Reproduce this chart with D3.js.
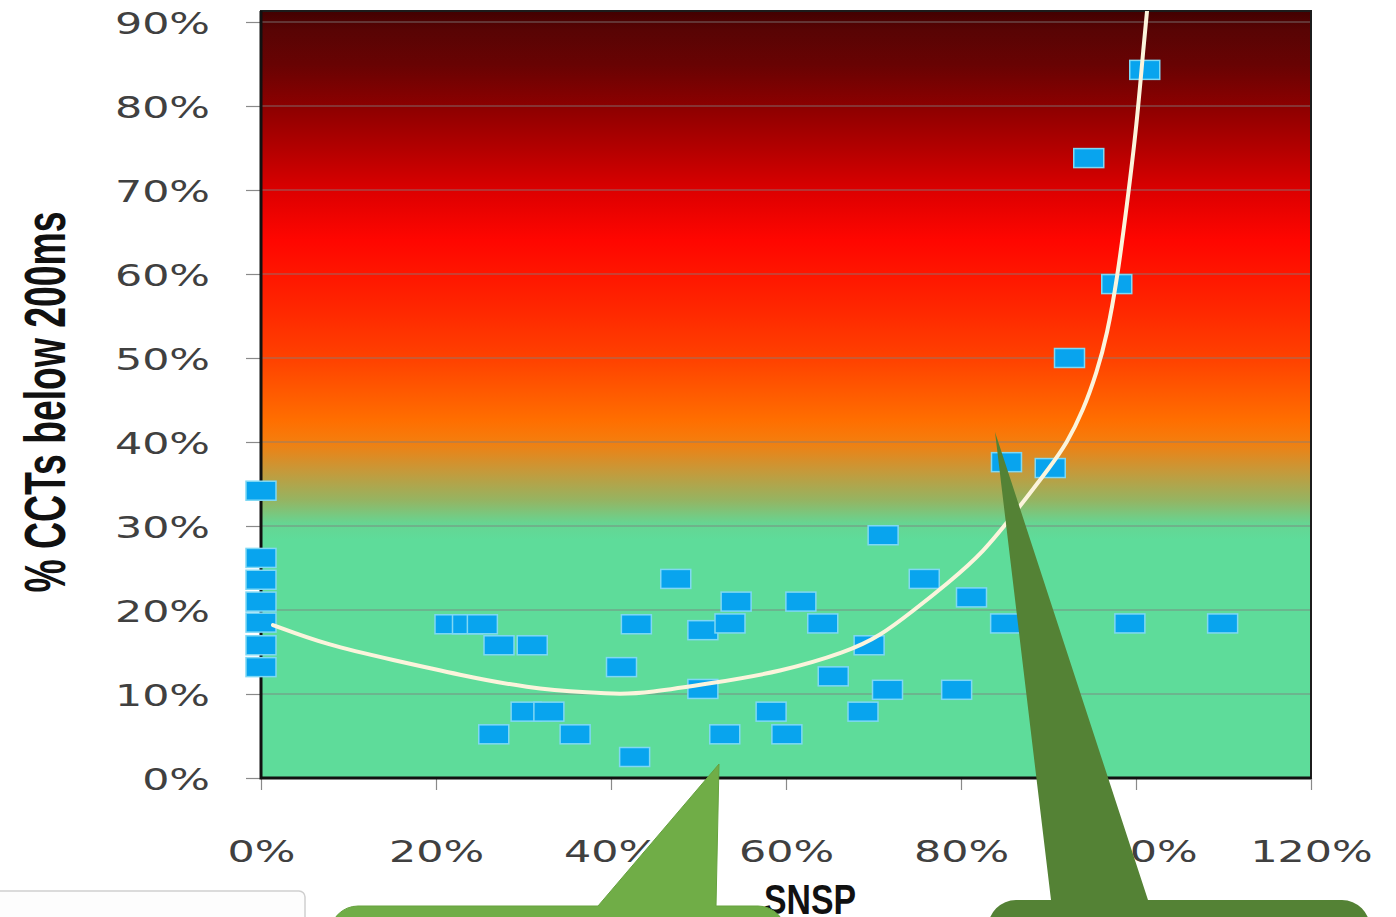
<!DOCTYPE html>
<html>
<head>
<meta charset="utf-8">
<script src="https://cdn.jsdelivr.net/npm/d3@7"></script>
<style>
  html, body { margin: 0; padding: 0; background: #ffffff; }
  svg { display: block; }
</style>
</head>
<body>
<svg id="chart" width="1396" height="917"></svg>
<script>
// ---------------- data ----------------
const xTicks = [0, 0.2, 0.4, 0.6, 0.8, 1.0, 1.2];
const yTicks = [0, 0.1, 0.2, 0.3, 0.4, 0.5, 0.6, 0.7, 0.8, 0.9];

// SNSP (x) and % CCTs below 200ms (y) for each scatter point
const snsp = [
  0, 0, 0, 0, 0, 0, 0,
  0.216, 0.236, 0.253,
  0.272, 0.310,
  0.266, 0.303, 0.329, 0.359,
  0.412, 0.429, 0.427,
  0.474, 0.505, 0.505, 0.536, 0.543, 0.530,
  0.583, 0.601, 0.617, 0.642, 0.654, 0.688, 0.695, 0.711, 0.716,
  0.758, 0.795, 0.812, 0.851, 0.852, 0.902, 0.924, 0.978, 0.946, 1.010, 0.993, 1.099
];
const ccts = [
  0.342, 0.262, 0.236, 0.210, 0.185, 0.158, 0.132,
  0.183, 0.183, 0.183,
  0.158, 0.158,
  0.052, 0.079, 0.079, 0.052,
  0.132, 0.183, 0.025,
  0.237, 0.176, 0.106, 0.184, 0.210, 0.052,
  0.079, 0.052, 0.210, 0.184, 0.121, 0.079, 0.158, 0.289, 0.105,
  0.237, 0.105, 0.215, 0.184, 0.376, 0.369, 0.500, 0.588, 0.738, 0.843, 0.184, 0.184
];

// trend line
const trendSnsp = [0.0137, 0.0754, 0.1509, 0.2274, 0.3040, 0.3794, 0.4103, 0.4411, 0.5166, 0.5931,
                   0.6697, 0.7074, 0.7451, 0.7851, 0.8251, 0.8640, 0.9017, 0.9211, 0.9394, 0.9554,
                   0.9669, 0.9783, 0.9897, 1.0011, 1.0080, 1.0160];
const trendCcts = [0.1821, 0.1583, 0.1405, 0.1226, 0.1071, 0.1012, 0.1000, 0.1012, 0.1131, 0.1262,
                   0.1500, 0.1690, 0.1988, 0.2321, 0.2679, 0.3190, 0.3702, 0.3988, 0.4369, 0.4833,
                   0.5274, 0.5929, 0.6821, 0.7798, 0.8643, 0.9500];

// ---------------- layout ----------------
const svg = d3.select("#chart");
const plot = { left: 261, right: 1311, top: 11, bottom: 778 };

const x = d3.scaleLinear().domain([0, 1.2]).range([plot.left, plot.right]);
const y = d3.scaleLinear().domain([0, 0.9]).range([plot.bottom, 22]);

const defs = svg.append("defs");
const grad = defs.append("linearGradient")
  .attr("id", "bg").attr("gradientUnits", "userSpaceOnUse")
  .attr("x1", 0).attr("x2", 0).attr("y1", plot.top).attr("y2", plot.bottom);
[
  [0.000, "#420000"], [0.025, "#580404"], [0.070, "#680303"], [0.124, "#8c0000"],
  [0.181, "#b40000"], [0.240, "#e00000"], [0.299, "#ff0600"], [0.377, "#ff2200"],
  [0.455, "#ff4200"], [0.533, "#ff6e00"], [0.559, "#f67c0c"], [0.598, "#c89838"],
  [0.638, "#95b462"], [0.668, "#66d592"], [0.690, "#5edc9a"], [1.000, "#5edc9a"]
].forEach(([o, c]) => grad.append("stop").attr("offset", o).attr("stop-color", c));

defs.append("clipPath").attr("id", "plotclip")
  .append("rect")
  .attr("x", plot.left).attr("y", plot.top)
  .attr("width", plot.right - plot.left).attr("height", plot.bottom - plot.top);

// background
svg.append("rect")
  .attr("x", plot.left).attr("y", plot.top)
  .attr("width", plot.right - plot.left).attr("height", plot.bottom - plot.top)
  .attr("fill", "url(#bg)");

// gridlines
svg.append("g").selectAll("line")
  .data(yTicks.filter(d => d > 0))
  .join("line")
  .attr("x1", plot.left).attr("x2", plot.right)
  .attr("y1", d => y(d)).attr("y2", d => y(d))
  .attr("stroke", "#808080").attr("stroke-opacity", 0.55).attr("stroke-width", 1.5);

// axes
const pct = d3.format(".0%");
const yAxis = svg.append("g")
  .attr("transform", `translate(${plot.left},0)`)
  .call(d3.axisLeft(y).tickValues(yTicks).tickFormat(pct).tickSize(15));
yAxis.select(".domain").remove();
yAxis.selectAll(".tick line").attr("stroke", "#8a8a8a").attr("stroke-width", 1.2);
yAxis.selectAll(".tick text")
  .attr("x", 0).attr("dy", "0.36em")
  .attr("transform", "translate(-51,0) scale(1.38,1)")
  .attr("font-family", "'DejaVu Sans', sans-serif")
  .attr("font-size", 31).attr("fill", "#404040");

const xAxis = svg.append("g")
  .attr("transform", `translate(0,${plot.bottom})`)
  .call(d3.axisBottom(x).tickValues(xTicks).tickFormat(pct).tickSize(12));
xAxis.select(".domain").remove();
xAxis.selectAll(".tick line").attr("stroke", "#8a8a8a").attr("stroke-width", 1.2);
xAxis.selectAll(".tick text")
  .attr("y", 0).attr("dy", 0)
  .attr("transform", "translate(0,84) scale(1.38,1)")
  .attr("font-family", "'DejaVu Sans', sans-serif")
  .attr("font-size", 31).attr("fill", "#404040");

// frame
svg.append("rect")
  .attr("x", plot.left).attr("y", plot.top)
  .attr("width", plot.right - plot.left).attr("height", plot.bottom - plot.top)
  .attr("fill", "none").attr("stroke", "#1c1c1c").attr("stroke-width", 2);
svg.append("path")
  .attr("d", `M${plot.left},${plot.top}V${plot.bottom}H${plot.right}`)
  .attr("fill", "none").attr("stroke", "#111").attr("stroke-width", 3);

// markers
const mw = 30, mh = 19;
svg.append("g").selectAll("rect")
  .data(snsp.map((v, i) => ({ sx: v, cy: ccts[i] })))
  .join("rect")
  .attr("x", d => x(d.sx) - mw / 2)
  .attr("y", d => y(d.cy) - mh / 2)
  .attr("width", mw).attr("height", mh)
  .attr("fill", "#08a4ee")
  .attr("stroke", "#7fd8f4").attr("stroke-width", 1.5);

// trend line
const line = d3.line()
  .x((d, i) => x(trendSnsp[i]))
  .y(d => y(d))
  .curve(d3.curveBasis);
svg.append("path")
  .datum(trendCcts)
  .attr("clip-path", "url(#plotclip)")
  .attr("d", line)
  .attr("fill", "none")
  .attr("stroke", "#fbf4dc")
  .attr("stroke-width", 4)
  .attr("stroke-linecap", "round");

// axis titles
svg.append("text")
  .attr("transform", "translate(65,402) rotate(-90)")
  .attr("text-anchor", "middle")
  .attr("font-family", "'Liberation Sans', Arial, sans-serif")
  .attr("font-weight", "bold")
  .attr("font-size", 57)
  .attr("textLength", 381).attr("lengthAdjust", "spacingAndGlyphs")
  .attr("fill", "#111")
  .text("% CCTs below 200ms");

svg.append("text")
  .attr("x", 810).attr("y", 914)
  .attr("text-anchor", "middle")
  .attr("font-family", "'Liberation Sans', Arial, sans-serif")
  .attr("font-weight", "bold")
  .attr("font-size", 42)
  .attr("textLength", 92).attr("lengthAdjust", "spacingAndGlyphs")
  .attr("fill", "#111")
  .text("SNSP");

// bottom-left grey box
svg.append("rect")
  .attr("x", -6).attr("y", 891).attr("width", 311).attr("height", 60).attr("rx", 6)
  .attr("fill", "#fdfdfd").attr("stroke", "#cfcfcf").attr("stroke-width", 1.5);

// callouts
function callout(bx, by, bw, bh, r, p1, tip, p2) {
  const p = d3.path();
  p.moveTo(bx + r, by);
  p.lineTo(p1, by);
  p.lineTo(tip[0], tip[1]);
  p.lineTo(p2, by);
  p.lineTo(bx + bw - r, by);
  p.arcTo(bx + bw, by, bx + bw, by + r, r);
  p.lineTo(bx + bw, by + bh);
  p.lineTo(bx, by + bh);
  p.lineTo(bx, by + r);
  p.arcTo(bx, by, bx + r, by, r);
  p.closePath();
  return p.toString();
}
svg.append("path")
  .attr("d", callout(330, 906, 456, 60, 28, 598, [719, 764], 716))
  .attr("fill", "#70ad47").attr("stroke", "#66a23f").attr("stroke-width", 1);
svg.append("path")
  .attr("d", callout(988, 900, 382, 60, 28, 1051, [995, 432], 1148))
  .attr("fill", "#548235");
</script>
</body>
</html>
